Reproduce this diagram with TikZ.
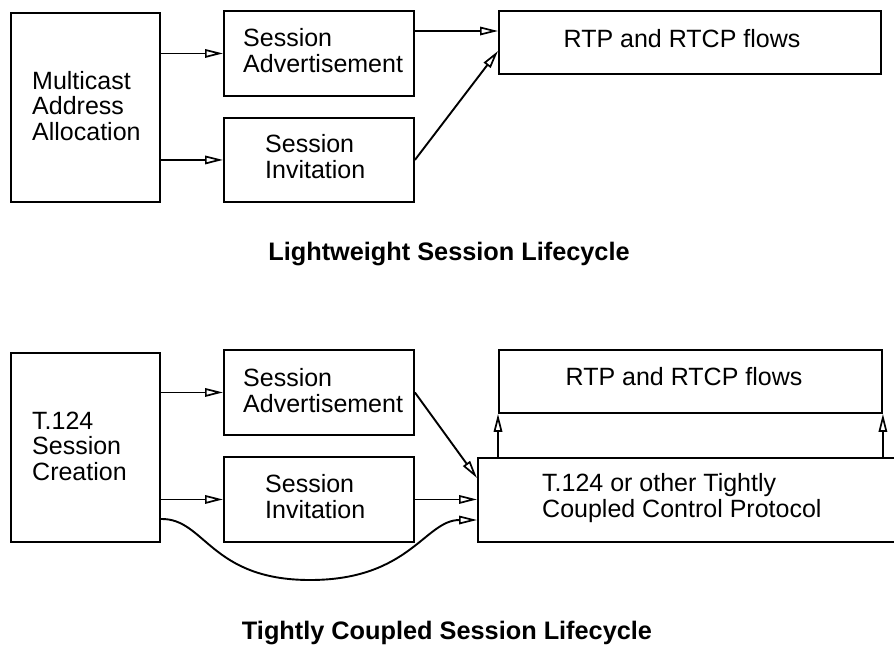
\documentclass[tikz,border=0pt]{standalone}
\usepackage{fontspec}
\setmainfont{Liberation Sans}
\usetikzlibrary{arrows.meta}
\begin{document}
\begin{tikzpicture}[x=1pt,y=-1pt,
  box/.style={draw,line width=1.9pt,inner sep=0pt,anchor=north west},
  txt/.style={inner sep=0pt,anchor=base west,align=left,font=\fontsize{25}{25.5}\selectfont},
  ttl/.style={inner sep=0pt,anchor=base,font=\fontsize{25.3}{27}\selectfont\bfseries},
  arr/.style={line width=1.9pt,-{Triangle[open,length=18pt,width=8.5pt,line width=1.7pt]}}]
\useasboundingbox (0,0) rectangle (894,648);
% ---- top: lightweight
\node[box,minimum width=149pt,minimum height=189pt] (ma) at (10,12) {};
\node[box,minimum width=190pt,minimum height=85pt] (sa1) at (223,10) {};
\node[box,minimum width=190pt,minimum height=84pt] (si1) at (223,117) {};
\node[box,minimum width=382pt,minimum height=63pt] (rtp1) at (498,10) {};
\node[txt] (mat) at (32,140) {Multicast\\Address\\Allocation};
\node[txt] (sa1t) at (243,72) {Session\\Advertisement};
\node[txt] (si1t) at (265,178) {Session\\Invitation};
\node[txt,anchor=base] (rtp1t) at (682,47) {RTP and RTCP flows};
\draw[arr] (ma.east |- sa1.west) -- (sa1.west);
\draw[arr] (ma.east |- si1.west) -- (si1.west);
\draw[arr] (sa1.east |- 0,31) -- (rtp1.west |- 0,31);
\draw[arr] (si1.east) -- (rtp1.west |- 0,51);
\node[ttl] (t1) at (449,260) {Lightweight Session Lifecycle};
% ---- bottom: tightly coupled
\node[box,minimum width=149pt,minimum height=189pt] (tc) at (10,352) {};
\node[box,minimum width=190pt,minimum height=85pt] (sa2) at (223,349) {};
\node[box,minimum width=190pt,minimum height=85pt] (si2) at (223,456) {};
\node[box,minimum width=425pt,minimum height=84pt] (ctl) at (477,457) {};
\node[box,minimum width=383pt,minimum height=63pt] (rtp2) at (498,349) {};
\node[txt] (tct) at (32,480) {T.124\\Session\\Creation};
\node[txt] (sa2t) at (243,412) {Session\\Advertisement};
\node[txt] (si2t) at (265,518) {Session\\Invitation};
\node[txt] (ctlt) at (542,517) {T.124 or other Tightly\\Coupled Control Protocol};
\node[txt,anchor=base] (rtp2t) at (684,385) {RTP and RTCP flows};
\draw[arr] (tc.east |- sa2.west) -- (sa2.west);
\draw[arr] (tc.east |- si2.west) -- (si2.west);
\draw[arr] (si2.east) -- (ctl.west |- si2.east);
\draw[arr] (sa2.east) -- (ctl.west |- 0,478);
\draw[arr] (tc.east |- 0,519) .. controls (205,518) and (210,580) .. (310,580)
  .. controls (410,580) and (425,520) .. (ctl.west |- 0,520);
\draw[arr] (rtp2.south west |- ctl.north) -- (rtp2.south west);
\draw[arr] (rtp2.south east |- ctl.north) -- (rtp2.south east);
\node[ttl] (t2) at (447,639) {Tightly Coupled Session Lifecycle};
\end{tikzpicture}
\end{document}
